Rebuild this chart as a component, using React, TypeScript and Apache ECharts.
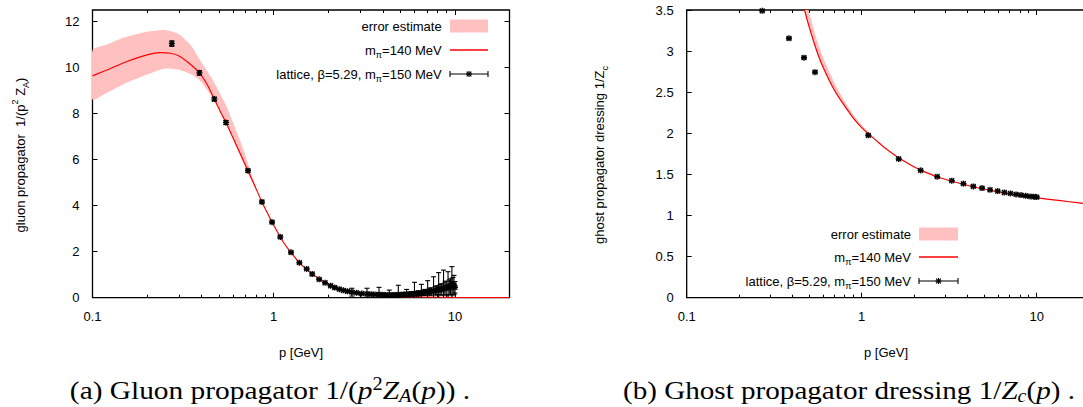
import React, { useEffect, useRef } from 'react';
import * as echarts from 'echarts';

const SANS = "'Liberation Sans', Arial, Helvetica, sans-serif";
const SERIF = "'Liberation Serif', 'Times New Roman', serif";
const PINK = '#ffc0c0';
const RED = '#ff0000';

// axis ticks
const X_MIN = 0.1;
const X_MAX = 20;
const xMajorTicks = [0.1, 1, 10];
const xMinorTicks = [0.2, 0.3, 0.4, 0.5, 0.6, 0.7, 0.8, 0.9, 2, 3, 4, 5, 6, 7, 8, 9];
const gluonYTicks = [0, 2, 4, 6, 8, 10, 12];
const ghostYTicks = [0, 0.5, 1, 1.5, 2, 2.5, 3, 3.5];

// gluon propagator: fit curve (m_pi = 140 MeV)
const gluonCurveP = [0.1, 0.125, 0.155, 0.2, 0.236, 0.27, 0.3, 0.34, 0.389, 0.43, 0.47, 0.51, 0.545, 0.6, 0.65, 0.721, 0.79, 0.861, 0.92, 0.979, 1.087, 1.16, 1.245, 1.385, 1.52, 1.7, 1.9, 2.1, 2.4, 2.7, 3.0, 3.5, 4.0, 5.0, 6.5, 8.0, 10, 14, 20];
const gluonCurveV = [9.64, 9.95, 10.26, 10.55, 10.65, 10.62, 10.5, 10.2, 9.77, 9.25, 8.63, 8.05, 7.61, 6.89, 6.3, 5.52, 4.82, 4.16, 3.7, 3.28, 2.64, 2.28, 1.97, 1.52, 1.22, 0.93, 0.68, 0.5, 0.35, 0.25, 0.19, 0.13, 0.09, 0.05, 0.03, 0.02, 0.01, 0.005, 0.002];

// gluon error estimate band
const gluonBandP = [0.1, 0.12, 0.15, 0.2, 0.25, 0.3, 0.35, 0.39, 0.45, 0.5, 0.55, 0.6, 0.65, 0.7, 0.75, 0.8];
const gluonBandLow = [8.6, 8.9, 9.3, 9.7, 9.95, 9.9, 9.7, 9.45, 8.8, 8.2, 7.5, 6.85, 6.2, 5.65, 5.15, 4.72];
const gluonBandHigh = [10.75, 11.0, 11.3, 11.55, 11.63, 11.45, 10.95, 10.35, 9.6, 8.95, 8.3, 7.55, 6.86, 6.15, 5.4, 4.78];

// gluon lattice data (beta=5.29, m_pi=150 MeV)
const gluonLatP = [0.274, 0.389, 0.470, 0.545, 0.721, 0.861, 0.979, 1.087, 1.245, 1.385, 1.52, 1.63, 1.78, 1.92, 2.06, 2.17, 2.30, 2.42, 2.55, 2.70, 2.87, 3.06, 3.27, 3.45, 3.62, 3.81, 3.97, 4.15, 4.34, 4.50, 4.68, 4.87, 5.04, 5.22, 5.41, 5.58, 5.76, 5.98, 6.15, 6.32, 6.53, 6.70, 6.85, 7.07, 7.22, 7.38, 7.62, 7.78, 7.95, 8.13, 8.28, 8.45, 8.65, 8.80, 8.95, 9.16, 9.30, 9.45, 9.62, 9.75, 9.88, 10.0];
const gluonLatV = [11.04, 9.77, 8.63, 7.61, 5.52, 4.16, 3.28, 2.64, 1.97, 1.52, 1.25, 1.03, 0.80, 0.65, 0.52, 0.44, 0.37, 0.32, 0.28, 0.24, 0.21, 0.18, 0.16, 0.15, 0.14, 0.13, 0.13, 0.12, 0.12, 0.12, 0.12, 0.13, 0.13, 0.14, 0.15, 0.15, 0.16, 0.18, 0.18, 0.19, 0.20, 0.22, 0.23, 0.24, 0.26, 0.27, 0.30, 0.30, 0.32, 0.38, 0.35, 0.36, 0.45, 0.40, 0.42, 0.50, 0.45, 0.47, 0.62, 0.50, 0.55, 0.45];
const gluonLatErr = [0.12, 0.10, 0.08, 0.08, 0.06, 0.05, 0.05, 0.05, 0.04, 0.04, 0.03, 0.05, 0.03, 0.03, 0.03, 0.06, 0.03, 0.03, 0.03, 0.17, 0.03, 0.04, 0.25, 0.04, 0.05, 0.32, 0.05, 0.06, 0.21, 0.06, 0.07, 0.41, 0.07, 0.08, 0.21, 0.08, 0.09, 0.49, 0.10, 0.11, 0.38, 0.12, 0.13, 0.50, 0.15, 0.16, 0.61, 0.18, 0.20, 0.71, 0.22, 0.25, 0.75, 0.28, 0.30, 0.63, 0.32, 0.35, 0.73, 0.38, 0.42, 0.25];

// ghost dressing: fit curve
const ghostCurveP = [0.44, 0.47, 0.5, 0.55, 0.6, 0.7, 0.8, 0.9, 1.0, 1.09, 1.2, 1.39, 1.63, 2.0, 2.17, 2.7, 3.27, 4.34, 5.41, 7.07, 8.5, 10, 12.5, 15, 20];
const ghostCurveV = [3.77, 3.51, 3.30, 3.02, 2.81, 2.52, 2.33, 2.18, 2.07, 1.995, 1.92, 1.805, 1.70, 1.59, 1.552, 1.471, 1.417, 1.35, 1.307, 1.26, 1.237, 1.215, 1.19, 1.17, 1.14];

// ghost error estimate band
const ghostBandP = [0.44, 0.47, 0.5, 0.55, 0.6, 0.7, 0.8, 0.9, 1.0, 1.1, 1.2, 1.3];
const ghostBandLow = [3.74, 3.49, 3.28, 3.0, 2.8, 2.51, 2.325, 2.175, 2.068, 1.99, 1.92, 1.86];
const ghostBandHigh = [4.0, 3.72, 3.48, 3.16, 2.93, 2.61, 2.39, 2.22, 2.10, 2.01, 1.93, 1.86];

// ghost lattice data
const ghostLatP = [0.270, 0.384, 0.468, 0.541, 1.09, 1.627, 2.17, 2.70, 3.27, 3.81, 4.34, 4.87, 5.41, 5.98, 6.53, 7.07, 7.62, 8.13, 8.65, 9.16, 9.62, 10.0];
const ghostLatV = [3.49, 3.155, 2.92, 2.744, 1.976, 1.688, 1.549, 1.472, 1.423, 1.387, 1.354, 1.334, 1.313, 1.297, 1.28, 1.268, 1.256, 1.249, 1.240, 1.232, 1.228, 1.224];
const ghostLatErr = [0.008, 0.012, 0.012, 0.012, 0.012, 0.01, 0.008, 0.008, 0.008, 0.008, 0.008, 0.008, 0.008, 0.008, 0.008, 0.008, 0.008, 0.008, 0.008, 0.008, 0.008, 0.008];

const zip = (a: number[], b: number[]) => a.map((v, i) => [v, b[i]]);

function starLines(cx: number, cy: number, r: number, style: any) {
  const d = r * 0.8;
  return [
    { type: 'line', shape: { x1: cx - r, y1: cy, x2: cx + r, y2: cy }, style },
    { type: 'line', shape: { x1: cx, y1: cy - r, x2: cx, y2: cy + r }, style },
    { type: 'line', shape: { x1: cx - d, y1: cy - d, x2: cx + d, y2: cy + d }, style },
    { type: 'line', shape: { x1: cx - d, y1: cy + d, x2: cx + d, y2: cy - d }, style },
  ];
}

const latticeRender = (params: any, api: any) => {
  const x = api.value(0);
  const y = api.value(1);
  const e = api.value(2);
  const c = api.coord([x, y]);
  const top = api.coord([x, y + e]);
  const lowVal = Math.max(y - e, 0);
  const bot = api.coord([x, lowVal]);
  const style = { stroke: '#000', lineWidth: 1.1, fill: 'none' };
  const cap = 2.5;
  const children: any[] = [
    { type: 'line', shape: { x1: c[0], y1: top[1], x2: c[0], y2: bot[1] }, style },
    { type: 'line', shape: { x1: c[0] - cap, y1: top[1], x2: c[0] + cap, y2: top[1] }, style },
  ];
  if (y - e >= 0) {
    children.push({ type: 'line', shape: { x1: c[0] - cap, y1: bot[1], x2: c[0] + cap, y2: bot[1] }, style });
  }
  children.push(...starLines(c[0], c[1], 3, { stroke: '#000', lineWidth: 1.4 }));
  return { type: 'group', children };
};

// band polygon: drawn once from all items, through the axes' scales
const bandRender = (params: any, api: any) => {
  if (params.dataIndexInside !== 0) return null;
  const n = params.dataInsideLength;
  const upper: number[][] = [];
  const lower: number[][] = [];
  for (let i = 0; i < n; i++) {
    const p = api.value(0, i);
    upper.push(api.coord([p, api.value(2, i)]));
    lower.push(api.coord([p, api.value(1, i)]));
  }
  const points = upper.concat(lower.reverse());
  return { type: 'polygon', shape: { points, smooth: 0.2 }, style: { fill: PINK, stroke: 'none' } };
};

function xAxes(grid: number) {
  const common = {
    gridIndex: grid, type: 'log', logBase: 10, min: X_MIN, max: X_MAX,
    axisLine: { show: false, onZero: false }, splitLine: { show: false },
  };
  const tickStyle = { color: '#000', width: 1 };
  const label = {
    customValues: xMajorTicks, margin: 12, color: '#000', fontFamily: SANS, fontSize: 13,
    formatter: (v: number) => String(Number(Number(v).toPrecision(4))),
  };
  return [
    { ...common, position: 'bottom', axisTick: { inside: true, length: 5, customValues: xMajorTicks, lineStyle: tickStyle }, axisLabel: label },
    { ...common, position: 'bottom', axisTick: { inside: true, length: 3, customValues: xMinorTicks, lineStyle: tickStyle }, axisLabel: { show: false } },
    { ...common, position: 'top', axisTick: { inside: true, length: 5, customValues: xMajorTicks, lineStyle: tickStyle }, axisLabel: { show: false } },
    { ...common, position: 'top', axisTick: { inside: true, length: 3, customValues: xMinorTicks, lineStyle: tickStyle }, axisLabel: { show: false } },
  ];
}

function yAxes(grid: number, max: number, ticks: number[]) {
  const common = {
    gridIndex: grid, type: 'value', min: 0, max,
    axisLine: { show: false, onZero: false }, splitLine: { show: false },
  };
  const tickStyle = { color: '#000', width: 1 };
  return [
    { ...common, position: 'left', axisTick: { inside: true, length: 5, customValues: ticks, lineStyle: tickStyle },
      axisLabel: { customValues: ticks, margin: 13, color: '#000', fontFamily: SANS, fontSize: 13 } },
    { ...common, position: 'right', axisTick: { inside: true, length: 5, customValues: ticks, lineStyle: tickStyle }, axisLabel: { show: false } },
  ];
}

function panelSeries(xi: number, yi: number, bandP: number[], bandLow: number[], bandHigh: number[], curveP: number[], curveV: number[], latP: number[], latV: number[], latErr: number[]) {
  return [
    {
      type: 'custom', xAxisIndex: xi, yAxisIndex: yi,
      data: bandP.map((p, i) => [p, bandLow[i], bandHigh[i]]),
      encode: { x: 0, y: [1, 2] }, renderItem: bandRender, clip: true, silent: true, z: 1,
    },
    {
      type: 'line', xAxisIndex: xi, yAxisIndex: yi, data: zip(curveP, curveV),
      symbol: 'none', smooth: 0.3, lineStyle: { color: RED, width: 1.2 }, silent: true, z: 2,
    },
    {
      type: 'custom', xAxisIndex: xi, yAxisIndex: yi,
      data: latP.map((p, i) => [p, latV[i], latErr[i]]),
      encode: { x: 0, y: 1 }, renderItem: latticeRender, silent: true, z: 3,
    },
  ];
}

function legend(rightX: number, rows: number[], sx0: number, sx1: number) {
  const base = { fontFamily: SANS, fontSize: 13, lineHeight: 18 };
  const rich = {
    t: base,
    s: { fontFamily: SANS, fontSize: 9, lineHeight: 11, verticalAlign: 'bottom' },
  };
  const txt = (y: number, text: string) => ({
    type: 'text', x: rightX, y, silent: true, z: 10,
    style: { text, rich, fill: '#000', textAlign: 'right', textVerticalAlign: 'middle' },
  });
  const mid = (sx0 + sx1) / 2;
  const bl = { stroke: '#000', lineWidth: 1.1 };
  return [
    txt(rows[0], '{t|error estimate}'),
    { type: 'rect', z: 10, shape: { x: sx0, y: rows[0] - 6.5, width: sx1 - sx0, height: 13 }, style: { fill: PINK }, silent: true },
    txt(rows[1], '{t|m}{s|π}{t|=140 MeV}'),
    { type: 'line', z: 10, shape: { x1: sx0, y1: rows[1], x2: sx1, y2: rows[1] }, style: { stroke: RED, lineWidth: 1.3 }, silent: true },
    txt(rows[2], '{t|lattice, β=5.29, m}{s|π}{t|=150 MeV}'),
    { type: 'line', z: 10, shape: { x1: sx0, y1: rows[2], x2: sx1, y2: rows[2] }, style: bl, silent: true },
    { type: 'line', z: 10, shape: { x1: sx0, y1: rows[2] - 3, x2: sx0, y2: rows[2] + 3 }, style: bl, silent: true },
    { type: 'line', z: 10, shape: { x1: sx1, y1: rows[2] - 3, x2: sx1, y2: rows[2] + 3 }, style: bl, silent: true },
    ...starLines(mid, rows[2], 3, { stroke: '#000', lineWidth: 1.2 }).map((l) => ({ ...l, silent: true, z: 10 })),
  ];
}

function axisNameRich() {
  return {
    t: { fontFamily: SANS, fontSize: 13, lineHeight: 20 },
    sup: { fontFamily: SANS, fontSize: 9, lineHeight: 12, verticalAlign: 'top' },
    sub: { fontFamily: SANS, fontSize: 9, lineHeight: 12, verticalAlign: 'bottom' },
  };
}

function captionRich() {
  return {
    r: { fontFamily: SERIF, fontSize: 26, lineHeight: 30 },
    i: { fontFamily: SERIF, fontSize: 26, lineHeight: 30, fontStyle: 'italic' },
    sup: { fontFamily: SERIF, fontSize: 18, lineHeight: 16, verticalAlign: 'top' },
    sub: { fontFamily: SERIF, fontSize: 18, lineHeight: 20, verticalAlign: 'bottom', fontStyle: 'italic' },
  };
}

function buildOption(): any {
  const g0 = { left: 92.5, top: 10, width: 417, height: 287.7 };
  const g1 = { left: 686.7, top: 10, width: 402.7, height: 287.7 };
  const gridStyle = { show: true, borderColor: '#000', borderWidth: 1.3, backgroundColor: 'transparent' };
  return {
    animation: false,
    backgroundColor: '#fff',
    grid: [{ ...g0, ...gridStyle }, { ...g1, ...gridStyle }],
    xAxis: [...xAxes(0), ...xAxes(1)],
    yAxis: [...yAxes(0, 12.5, gluonYTicks), ...yAxes(1, 3.5, ghostYTicks)],
    series: [
      ...panelSeries(0, 0, gluonBandP, gluonBandLow, gluonBandHigh, gluonCurveP, gluonCurveV, gluonLatP, gluonLatV, gluonLatErr),
      ...panelSeries(4, 2, ghostBandP, ghostBandLow, ghostBandHigh, ghostCurveP, ghostCurveV, ghostLatP, ghostLatV, ghostLatErr),
    ],
    graphic: [
      ...legend(441.7, [26, 50, 74], 450, 488),
      ...legend(911, [234, 257, 281], 919, 958),
      {
        type: 'text', x: 20, y: 155, rotation: Math.PI / 2, silent: true,
        style: { text: '{t|gluon propagator  1/(p}{sup|2}{t| Z}{sub|A}{t|)}', rich: axisNameRich(), fill: '#000', textAlign: 'center', textVerticalAlign: 'middle' },
      },
      {
        type: 'text', x: 599, y: 155, rotation: Math.PI / 2, silent: true,
        style: { text: '{t|ghost propagator dressing 1/Z}{sub|c}', rich: axisNameRich(), fill: '#000', textAlign: 'center', textVerticalAlign: 'middle' },
      },
      {
        type: 'text', x: 301, y: 352, silent: true,
        style: { text: 'p [GeV]', fontFamily: SANS, fontSize: 13, fill: '#000', textAlign: 'center', textVerticalAlign: 'middle' },
      },
      {
        type: 'text', x: 886, y: 352, silent: true,
        style: { text: 'p [GeV]', fontFamily: SANS, fontSize: 13, fill: '#000', textAlign: 'center', textVerticalAlign: 'middle' },
      },
      {
        type: 'text', x: 270, y: 390, scaleX: 1.13, silent: true,
        style: { text: '{r|(a) Gluon propagator 1/(}{i|p}{sup|2}{i|Z}{sub|A}{r|(}{i|p}{r|)) .}', rich: captionRich(), fill: '#000', textAlign: 'center', textVerticalAlign: 'middle' },
      },
      {
        type: 'text', x: 849, y: 390, scaleX: 1.12, silent: true,
        style: { text: '{r|(b) Ghost propagator dressing 1/}{i|Z}{sub|c}{r|(}{i|p}{r|) .}', rich: captionRich(), fill: '#000', textAlign: 'center', textVerticalAlign: 'middle' },
      },
    ],
  };
}

export default function App() {
  const ref = useRef<HTMLDivElement>(null);
  useEffect(() => {
    const chart = echarts.init(ref.current as HTMLDivElement, undefined, { renderer: 'svg' });
    chart.setOption(buildOption());
    return () => chart.dispose();
  }, []);
  return (
    <div style={{ position: 'absolute', left: 0, top: 0, width: 1083, height: 407, overflow: 'hidden', background: '#fff' }}>
      <div ref={ref} style={{ width: 1100, height: 407 }} />
    </div>
  );
}
